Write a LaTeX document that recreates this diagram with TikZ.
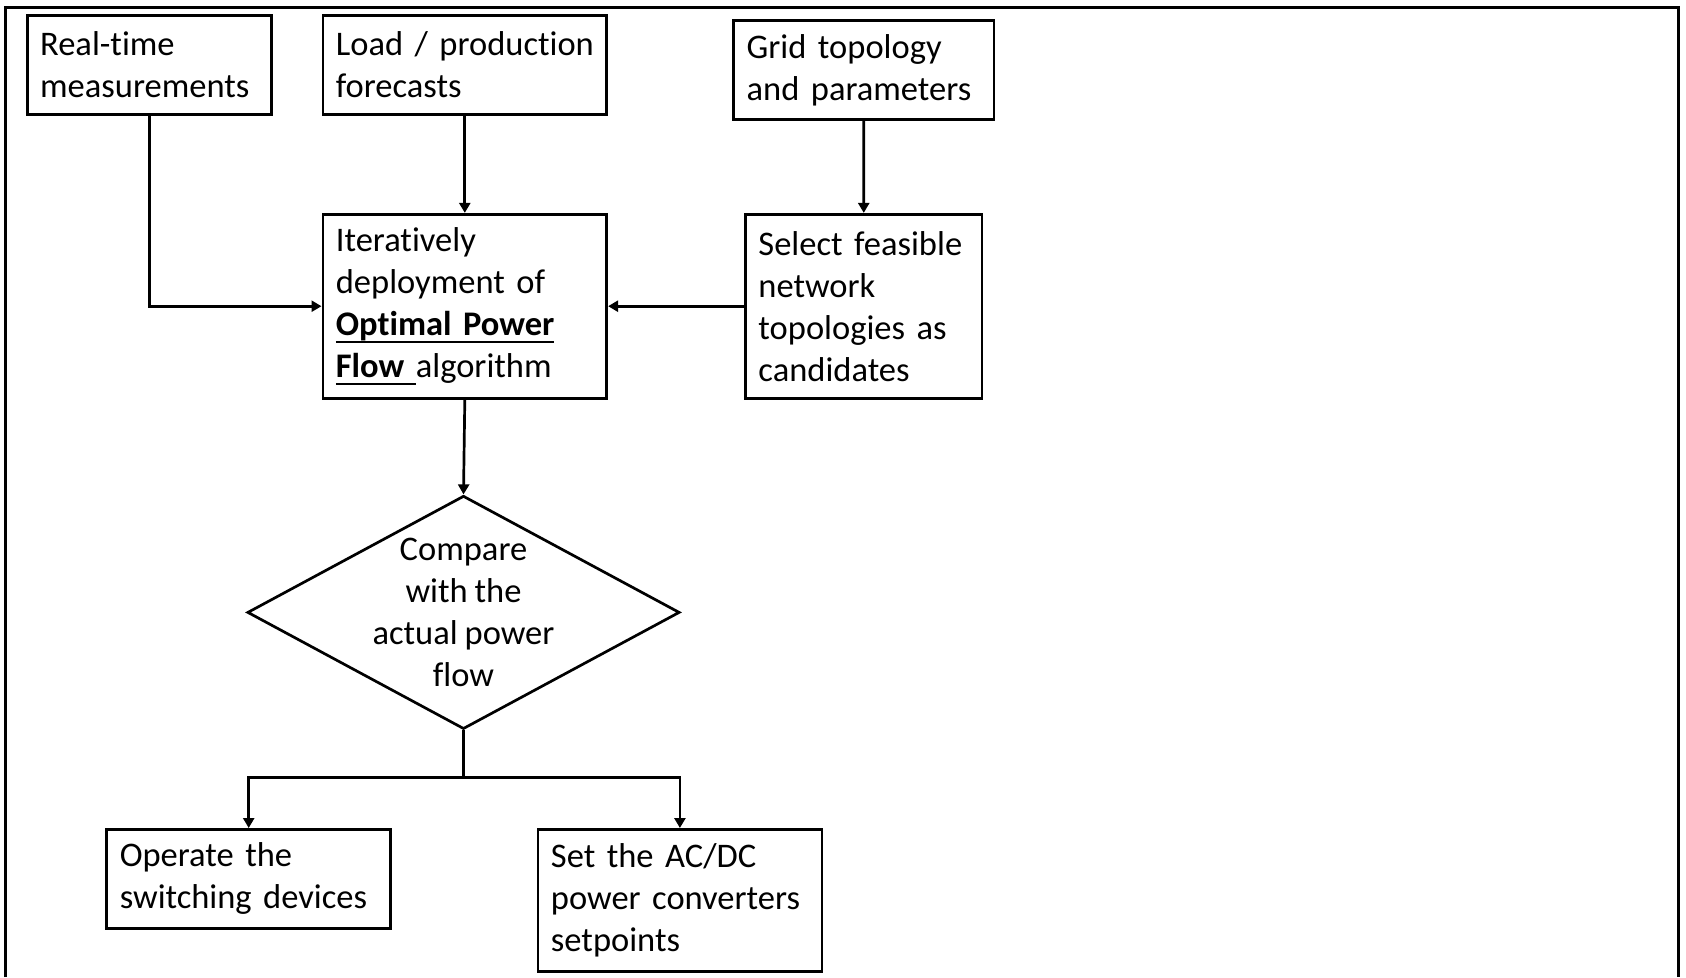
\documentclass[tikz,border=0pt]{standalone}
\usepackage{fontspec}
\setmainfont{Carlito}[Ligatures=NoCommon]
\usetikzlibrary{arrows.meta,shapes.geometric}

% underline drawn at a fixed depth below the baseline
\newcommand\ulbox[1]{\sbox0{#1}\rlap{\rule[-0.21em]{\wd0}{0.065em}}\usebox0}
% text face used in every box
\newcommand\diagfont{\fontsize{34.5}{42}\selectfont\spaceskip=0.2em plus 0.1em minus 0.05em\relax}

\tikzset{
  txt/.style={font=\diagfont},
  stepbox/.style={txt, draw, line width=2.7pt, rectangle, anchor=north west,
    inner xsep=13pt, inner ysep=0pt, align=left},
  link/.style={line width=2.7pt, -{Triangle[length=10pt,width=11pt]}},
  plain/.style={line width=2.7pt},
}

\begin{document}
\begin{tikzpicture}[x=1pt,y=-1pt]
\useasboundingbox (0,0) rectangle (1686,977);

% outer frame (open at the bottom)
\draw[line width=2.5pt] (5.4,977) -- (5.4,7.5) -- (1678.5,7.5) -- (1678.5,977);

% input boxes
\node[stepbox, text width=218.1pt, minimum height=98.9pt] (meas) at (25.8,14)
  {\mbox{Real-time}\\\mbox{measurements}};
\node[stepbox, text width=257.9pt, minimum height=98.9pt] (fcst) at (321.5,14)
  {\mbox{Load / production}\\\mbox{forecasts}};
\node[stepbox, text width=234.2pt, minimum height=98.9pt] (topo) at (732.3,19.4)
  {\mbox{Grid topology}\\\mbox{and parameters}};

% processing boxes
\node[stepbox, text width=257.9pt, minimum height=183.9pt] (opf) at (321.5,212.9)
  {\mbox{Iteratively}\\\mbox{deployment of}\\
   \mbox{\ulbox{\textbf{Optimal Power}}}\\
   \mbox{\ulbox{\textbf{Flow }}algorithm}};
\node[stepbox, text width=210.6pt, minimum height=183.9pt] (select) at (744.1,212.9)
  {\mbox{Select feasible}\\\mbox{network}\\\mbox{topologies as}\\\mbox{candidates}};

% decision
\node[draw, diamond, line width=2.7pt, minimum width=432.3pt, minimum height=233.3pt,
  inner sep=0pt] (cmp) at (463.5,612.4) {};
\node[txt, align=center] (cmptext) at (cmp.center)
  {Compare\\with the\\actual power\\flow};

% actions
\node[stepbox, text width=257.9pt, minimum height=98.9pt] (switch) at (105.4,828)
  {\mbox{Operate the}\\\mbox{switching devices}};
\node[stepbox, text width=257.9pt, minimum height=142pt] (conv) at (536.6,828)
  {\mbox{Set the AC/DC}\\\mbox{power converters}\\\mbox{setpoints}};

% connectors
\draw[link] (meas.south) |- (opf.west);
\draw[link] (fcst.south) -- (opf.north);
\draw[link] (topo.south) -- (select.north);
\draw[link] (select.west) -- (opf.east);
\draw[link] (opf.south) -- (cmp.north);
\coordinate (split) at (463.5,777.4);
\draw[plain] (cmp.south) -- (split);
\draw[link] (split) -| (switch.north);
\draw[link] (split) -| (conv.north);
\end{tikzpicture}
\end{document}
